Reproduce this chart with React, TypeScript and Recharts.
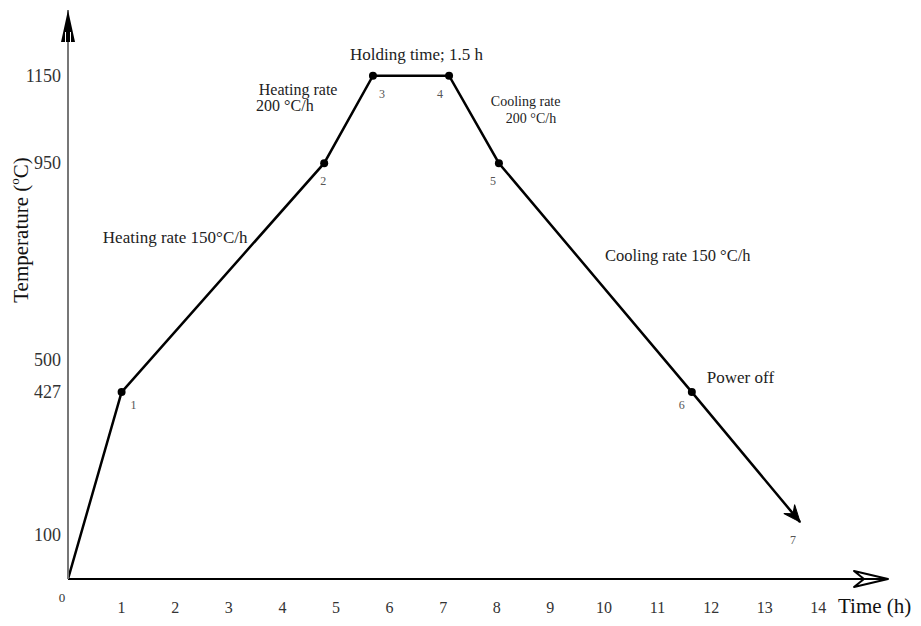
import React from "react";
import { Customized, Line, LineChart, ReferenceDot, XAxis, YAxis } from "recharts";

// heat treatment cycle
const times = [0, 1, 4.78, 5.69, 7.11, 8.04, 11.64, 13.66];
const temps = [0, 427, 950, 1150, 1150, 950, 427, 130];
const pointNames = ["", "1", "2", "3", "4", "5", "6", "7"];

const xTicks = [0, 1, 2, 3, 4, 5, 6, 7, 8, 9, 10, 11, 12, 13, 14];
const yTicks = [100, 427, 500, 950, 1150];

const notes = [
  { time: 0.65, temp: 781, text: "Heating rate 150°C/h", size: 17 },
  { time: 3.56, temp: 1119, text: "Heating rate", size: 16 },
  { time: 3.51, temp: 1081, text: "200 °C/h", size: 16 },
  { time: 5.26, temp: 1199, text: "Holding time; 1.5 h", size: 17 },
  { time: 7.89, temp: 1092, text: "Cooling rate", size: 14 },
  { time: 8.17, temp: 1053, text: "200 °C/h", size: 14 },
  { time: 10.02, temp: 738, text: "Cooling rate 150 °C/h", size: 16.5 },
  { time: 11.92, temp: 461, text: "Power off", size: 17 },
];

const data = times.map((t, i) => ({ time: t, temp: temps[i] }));

const FONT = '"Liberation Serif", "Times New Roman", serif';

// where each point number sits relative to its dot
const labelOffsets = [
  [0, 0],
  [12, 13],
  [-1, 18],
  [9, 18],
  [-9, 18],
  [-6, 18],
  [-10, 13],
  [-7, 18],
];

const renderDot = (props: any) => {
  const { cx, cy, index, points } = props;
  const key = `pt-${index}`;
  if (index === 0 || cx == null) return <g key={key} />;
  const [dx, dy] = labelOffsets[index];
  const label = (
    <text
      x={cx + dx}
      y={cy + dy}
      textAnchor="middle"
      dominantBaseline="central"
      fontFamily={FONT}
      fontSize={12}
      fill="#555"
    >
      {pointNames[index]}
    </text>
  );
  if (index === times.length - 1) {
    const prev = points && points[index - 1];
    const ang = prev ? Math.atan2(cy - prev.y, cx - prev.x) : Math.atan2(138, 108);
    return (
      <g key={key}>
        <path
          d="M0,0 L-17,-7 L-11,0 L-17,7 Z"
          fill="#000"
          stroke="#000"
          strokeWidth={1}
          transform={`translate(${cx},${cy}) rotate(${(ang * 180) / Math.PI})`}
        />
        {label}
      </g>
    );
  }
  return (
    <g key={key}>
      <circle cx={cx} cy={cy} r={4} fill="#000" />
      {label}
    </g>
  );
};

const XTick = (p: any) => {
  const v = p.payload.value;
  if (v === 0) {
    return (
      <text x={p.x - 6} y={p.y + 16} textAnchor="middle" dominantBaseline="central" fontFamily={FONT} fontSize={13} fill="#333">
        0
      </text>
    );
  }
  return (
    <text x={p.x} y={p.y + 26} textAnchor="middle" dominantBaseline="central" fontFamily={FONT} fontSize={16} fill="#333">
      {v}
    </text>
  );
};

const YTick = (p: any) => (
  <text x={p.x - 5} y={p.y} textAnchor="end" dominantBaseline="central" fontFamily={FONT} fontSize={18} fill="#333">
    {p.payload.value}
  </text>
);

const UpArrow = (p: any) => (
  <g transform={`translate(${p.cx},${p.cy})`}>
    <path d="M0,0 L-7,32 L7,32 Z" fill="#000" />
    <line x1={-2.5} y1={22} x2={-2.5} y2={32} stroke="#fff" strokeWidth={1} />
    <line x1={2.5} y1={22} x2={2.5} y2={32} stroke="#fff" strokeWidth={1} />
  </g>
);

const RightArrow = (p: any) => (
  <g transform={`translate(${p.cx},${p.cy})`}>
    <path d="M0,0 L-34,-8 L-24,0 L-34,8 Z" fill="#fff" stroke="#000" strokeWidth={2} strokeLinejoin="round" />
    <line x1={-24} y1={0} x2={-4} y2={0} stroke="#000" strokeWidth={2} />
  </g>
);

const noteShape = (n: { text: string; size: number }) => (p: any) => (
  <text x={p.cx} y={p.cy} dominantBaseline="central" fontFamily={FONT} fontSize={n.size} fill="#222">
    {n.text}
  </text>
);

const AxisTitles = () => (
  <g fontFamily={FONT} fill="#111">
    <text x={830} y={598} dominantBaseline="central" fontSize={21}>
      Time (h)
    </text>
    <text
      x={13}
      y={222}
      transform="rotate(-90, 13, 222)"
      textAnchor="middle"
      dominantBaseline="central"
      fontSize={21}
    >
      Temperature (
      <tspan fontSize={13} dy={-7}>
        o
      </tspan>
      <tspan dy={7}>C)</tspan>
    </text>
  </g>
);

const App = () => {
  return (
    <LineChart width={905} height={610} data={data} margin={{ top: 2, right: 25, bottom: 0, left: 0 }}>
      <XAxis
        type="number"
        dataKey="time"
        domain={[0, 15.3]}
        ticks={xTicks}
        interval={0}
        tick={<XTick />}
        tickLine={false}
        tickSize={0}
        axisLine={{ stroke: "#000", strokeWidth: 2 }}
        height={39}
        allowDataOverflow
      />
      <YAxis
        type="number"
        domain={[0, 1300]}
        ticks={yTicks}
        interval={0}
        tick={<YTick />}
        tickLine={false}
        tickSize={0}
        axisLine={{ stroke: "#777", strokeWidth: 2 }}
        width={60}
        allowDataOverflow
      />
      <Line
        type="linear"
        dataKey="temp"
        stroke="#000"
        strokeWidth={2.5}
        dot={renderDot}
        activeDot={false}
        isAnimationActive={false}
      />
      {notes.map((n, i) => (
        <ReferenceDot key={`n${i}`} x={n.time} y={n.temp} r={0} ifOverflow="visible" shape={noteShape(n)} />
      ))}
      <ReferenceDot x={0} y={1300} r={0} ifOverflow="visible" shape={UpArrow} />
      <ReferenceDot x={15.3} y={0} r={0} ifOverflow="visible" shape={RightArrow} />
      <Customized component={AxisTitles} />
    </LineChart>
  );
};

export default App;
